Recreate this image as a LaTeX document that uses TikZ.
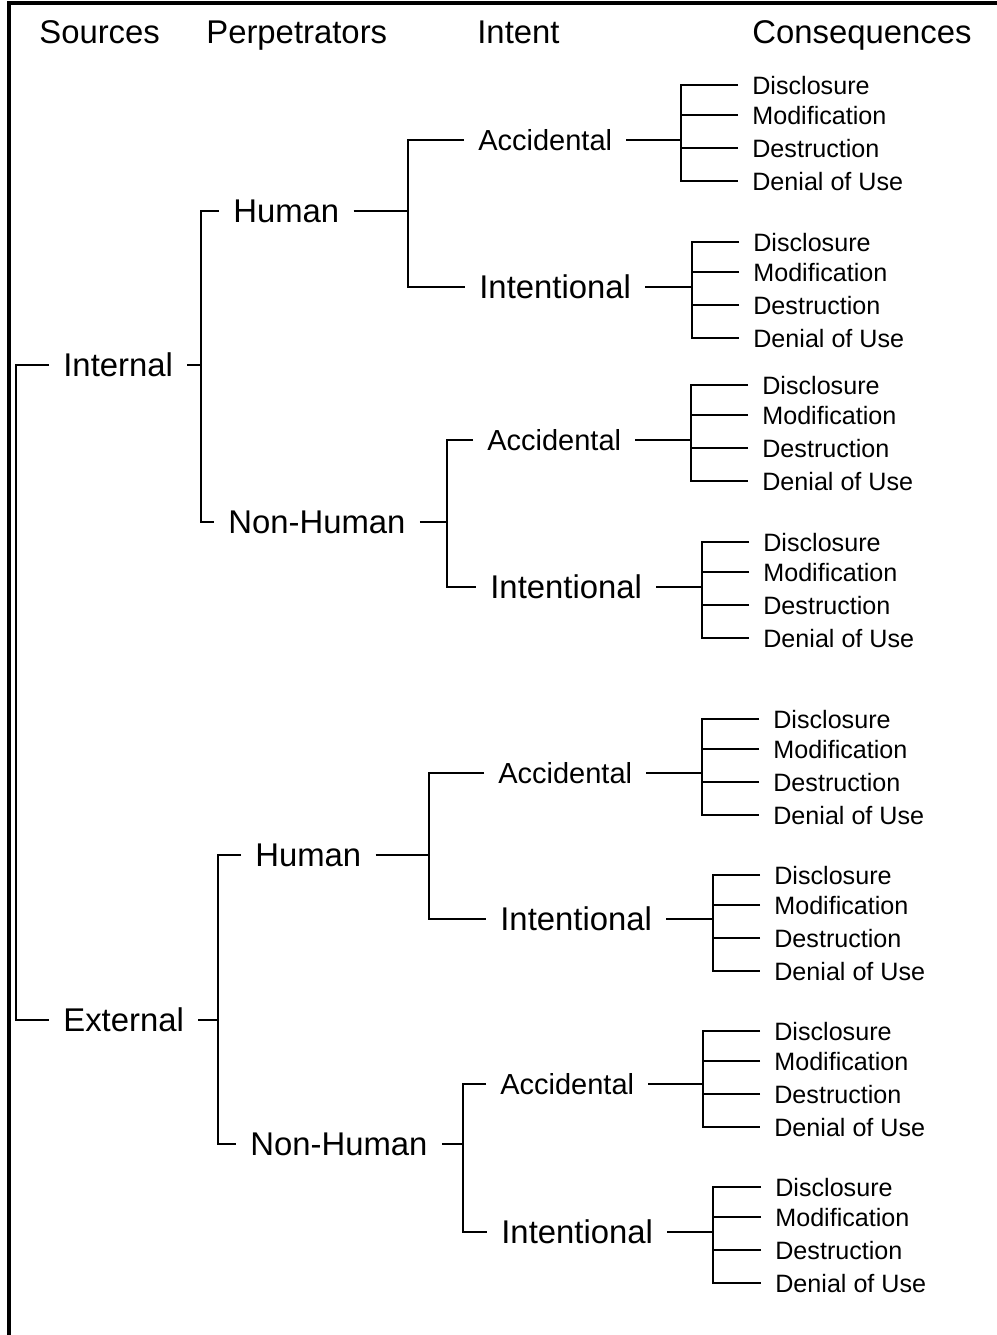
\documentclass[tikz,border=0pt]{standalone}
\usepackage{fontspec}
\setmainfont{Liberation Sans}

\tikzset{
    head/.style={anchor=west, inner xsep=0.28cm, inner ysep=0pt,
        font=\fontsize{18.7pt}{22pt}\selectfont, text height=0.472cm, text depth=0pt},
    lvl/.style={head},
    accid/.style={head, font=\fontsize{16.5pt}{20pt}\selectfont, text height=0.415cm},
    cons/.style={head, font=\fontsize{14.3pt}{17pt}\selectfont, text height=0.362cm},
    link/.style={line width=0.8pt},
    trunk/.style={line width=1.15pt},
}

\begin{document}
\begin{tikzpicture}[x=0.02cm, y=-0.02cm]
    \useasboundingbox (0,0) rectangle (997,1335);
    \draw[line width=2pt] (997,3) -- (9,3) -- (9,1335);

    % column titles
    \node[head] (tsrc) at (25,32) {Sources};
    \node[head] (tper) at (192,32) {Perpetrators};
    \node[head] (tint) at (463,32) {Intent};
    \node[head] (tcon) at (738,32) {Consequences};

    % sources
    \node[lvl] (int) at (49,365) {Internal};
    \node[lvl] (ext) at (49,1020) {External};
    \coordinate (jroot) at (16,700);
    \draw[link] (int.west) -| (jroot) |- (ext.west);

    % perpetrators
    \node[lvl] (ih) at (219,211) {Human};
    \node[lvl] (inh) at (214,522) {Non-Human};
    \node[lvl] (eh) at (241,855) {Human};
    \node[lvl] (enh) at (236,1144) {Non-Human};
    \coordinate (jint) at (201,365);
    \coordinate (jext) at (218,1020);
    \draw[link] (int.east) -- (jint);
    \draw[link] (ih.west) -| (jint) |- (inh.west);
    \draw[link] (ext.east) -- (jext);
    \draw[link] (eh.west) -| (jext) |- (enh.west);

    % intent
    \coordinate (jih) at (408,211);
    \coordinate (jinh) at (447,522);
    \coordinate (jeh) at (429,855);
    \coordinate (jenh) at (463,1144);
    \foreach \g/\sty/\txt/\nx/\ny/\jx/\cx/\ty in {
        1/accid/Accidental/464/140/681/738/85,
        2/lvl/Intentional/465/287/692/739/242,
        3/accid/Accidental/473/440/691/748/385,
        4/lvl/Intentional/476/587/702/749/542,
        5/accid/Accidental/484/773/702/759/719,
        6/lvl/Intentional/486/919/713/760/875,
        7/accid/Accidental/486/1084/703/760/1031,
        8/lvl/Intentional/487/1232/713/761/1187}
    {
        \node[\sty] (i\g) at (\nx,\ny) {\txt};
        \coordinate (j\g) at (\jx,\ny);
        \draw[trunk] (i\g.east) -- (j\g);
        % consequences
        \foreach \i/\c/\dy in {1/Disclosure/0, 2/Modification/30, 3/Destruction/63, 4/Denial of Use/96}
            \node[cons] (c\g-\i) at (\cx,\ty+\dy) {\c};
        \draw[link] (c\g-1.west) -| (j\g) |- (c\g-4.west);
        \draw[link] (c\g-2.west) -- (c\g-2.west -| j\g);
        \draw[link] (c\g-3.west) -- (c\g-3.west -| j\g);
    }
    \draw[trunk] (ih.east) -- (jih);
    \draw[link] (i1.west) -| (jih) |- (i2.west);
    \draw[trunk] (inh.east) -- (jinh);
    \draw[link] (i3.west) -| (jinh) |- (i4.west);
    \draw[trunk] (eh.east) -- (jeh);
    \draw[link] (i5.west) -| (jeh) |- (i6.west);
    \draw[trunk] (enh.east) -- (jenh);
    \draw[link] (i7.west) -| (jenh) |- (i8.west);
\end{tikzpicture}
\end{document}
